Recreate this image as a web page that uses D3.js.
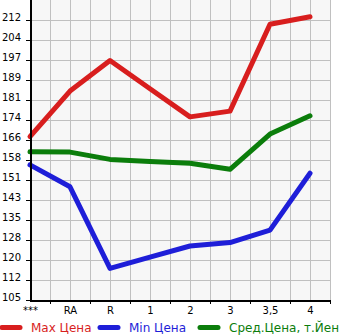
<!DOCTYPE html>
<html>
<head>
<meta charset="utf-8">
<script src="https://cdn.jsdelivr.net/npm/d3@7"></script>
<style>
  html, body { margin: 0; padding: 0; background: #ffffff; }
  svg { display: block; font-family: "DejaVu Sans", sans-serif; }
</style>
</head>
<body>
<svg id="chart" width="345" height="335"></svg>
<script>
const categories = ["***", "RA", "R", "1", "2", "3", "3,5", "4"];
const maxPrice = [167.6, 185.1, 196.8, 186.0, 175.2, 177.4, 210.7, 213.6];
const minPrice = [156.8, 148.4, 117.1, 121.4, 125.7, 127.0, 131.8, 153.6];
const avgPrice = [161.8, 161.7, 158.9, 158.1, 157.4, 155.1, 168.6, 175.6];
const yMin = 105, yMax = 220, yDivisions = 15;
const yTickValues = d3.range(0, yDivisions).map(k => yMin + k * (yMax - yMin) / yDivisions);
const seriesNames = ["Max Цена", "Min Цена", "Сред.Цена, т.Йен"];
const seriesColors = ["#d81e1e", "#1e1ed8", "#0b7d0b"];

const svg = d3.select("#chart");
const pLeft = 30, pRight = 330, pTop = 0, pBottom = 300;

const x = d3.scaleLinear().domain([0, categories.length - 0.5]).range([pLeft, pRight]);
const y = d3.scaleLinear().domain([yMin, yMax]).range([pBottom, pTop]);

// plot background
svg.append("rect").attr("x", pLeft).attr("y", pTop)
  .attr("width", pRight - pLeft).attr("height", pBottom - pTop).attr("fill", "#f7f7f7");

// grid
svg.append("g").selectAll("line").data(d3.range(0.5, categories.length, 0.5))
  .join("line")
  .attr("x1", d => x(d) + 0.5).attr("x2", d => x(d) + 0.5)
  .attr("y1", pTop).attr("y2", pBottom)
  .attr("stroke", "#c0c0c0").attr("stroke-width", 1);
svg.append("g").selectAll("line").data(yTickValues.slice(1))
  .join("line")
  .attr("x1", pLeft).attr("x2", pRight)
  .attr("y1", d => Math.round(y(d)) + 0.5).attr("y2", d => Math.round(y(d)) + 0.5)
  .attr("stroke", "#c0c0c0").attr("stroke-width", 1);

// lines
const line = d3.line().x((d, i) => x(i)).y(d => y(d));
[maxPrice, minPrice, avgPrice].forEach((s, k) => {
  svg.append("path").datum(s)
    .attr("d", line)
    .attr("fill", "none")
    .attr("stroke", seriesColors[k])
    .attr("stroke-width", 5)
    .attr("stroke-linejoin", "round")
    .attr("stroke-linecap", "round");
});

// y axis
const yAxis = d3.axisLeft(y).tickValues(yTickValues)
  .tickFormat(d => Math.floor(d + 1e-9)).tickSize(5).tickPadding(5);
const gy = svg.append("g").attr("transform", `translate(${pLeft + 1},0)`).call(yAxis);
gy.select(".domain").attr("stroke", "#000").attr("stroke-width", 2)
  .attr("d", `M0,${pTop}V${pBottom + 1}`);
gy.selectAll(".tick line").attr("stroke", "#000");
gy.selectAll(".tick text").attr("dy", "0.05em").attr("font-size", 10)
  .attr("font-family", "DejaVu Sans, sans-serif").attr("fill", "#000");

// x axis
const xTicks = d3.axisBottom(x).tickValues(d3.range(0.5, categories.length, 1))
  .tickFormat("").tickSize(3);
const gx = svg.append("g").attr("transform", `translate(0,${pBottom + 1})`).call(xTicks);
gx.select(".domain").attr("stroke", "#000").attr("stroke-width", 2)
  .attr("d", `M${pLeft},0H${pRight + 1}`);
gx.selectAll(".tick line").attr("stroke", "#000");

const xLabels = d3.axisBottom(x).tickValues(d3.range(0, categories.length))
  .tickFormat(i => categories[i]).tickSize(0).tickPadding(6);
const gxl = svg.append("g").attr("transform", `translate(0,${pBottom + 1})`).call(xLabels);
gxl.select(".domain").remove();
gxl.selectAll(".tick text").attr("font-size", 10)
  .attr("font-family", "DejaVu Sans, sans-serif").attr("fill", "#000");

// legend
const legendX = [0, 98, 198];
seriesNames.forEach((name, k) => {
  const g = svg.append("g").attr("transform", `translate(${legendX[k]},0)`);
  g.append("line").attr("x1", 2).attr("x2", 20).attr("y1", 327.5).attr("y2", 327.5)
    .attr("stroke", seriesColors[k]).attr("stroke-width", 5).attr("stroke-linecap", "round");
  g.append("text").attr("x", 31).attr("y", 332).attr("font-size", 12)
    .attr("fill", seriesColors[k]).text(name);
});
</script>
</body>
</html>
